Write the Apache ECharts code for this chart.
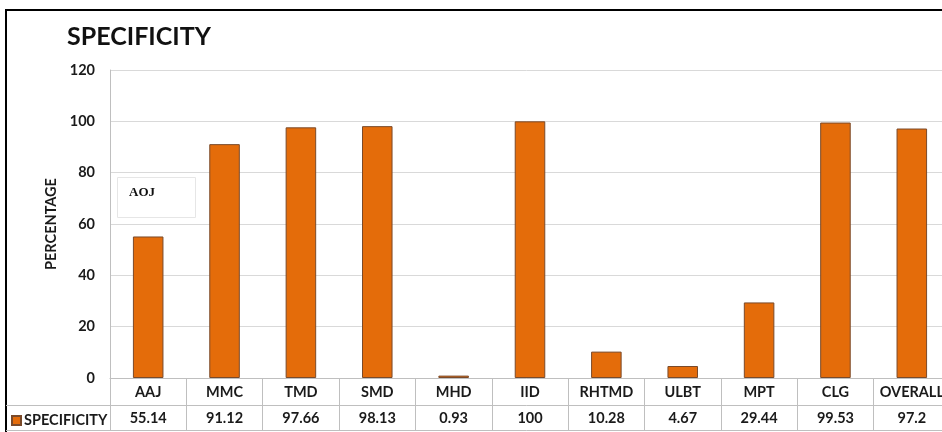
<!DOCTYPE html>
<html>
<head>
<meta charset="utf-8">
<script src="https://cdn.jsdelivr.net/npm/echarts@6/dist/echarts.min.js"></script>
<style>
  html, body { margin: 0; padding: 0; background: #fff; }
  #chart { width: 942px; height: 432px; }
</style>
</head>
<body>
<div id="chart"></div>
<script>
// Specificity per class, with a data table under the category axis
const categories = ['AAJ', 'MMC', 'TMD', 'SMD', 'MHD', 'IID', 'RHTMD', 'ULBT', 'MPT', 'CLG', 'OVERALL'];
const specificity = [55.14, 91.12, 97.66, 98.13, 0.93, 100, 10.28, 4.67, 29.44, 99.53, 97.2];
const yTicks = { min: 0, max: 120, step: 20 };

const FONT = 'Lato, "Open Sans", "Liberation Sans", sans-serif';
const TEXT = '#1a1a1a';
const ORANGE = '#E46C0A';
const GRID_LINE = '#d9d9d9';
const TABLE_LINE = '#bfbfbf';

const chart = echarts.init(document.getElementById('chart'), null, { renderer: 'canvas' });

chart.setOption({
  backgroundColor: '#ffffff',
  animation: false,
  title: {
    text: 'SPECIFICITY',
    left: 62, top: 19,
    textStyle: { fontFamily: FONT, fontWeight: 'bold', fontSize: 25, color: '#111' }
  },
  legend: {
    data: ['SPECIFICITY'],
    left: 6, top: 408,
    icon: 'rect', itemWidth: 9, itemHeight: 9, itemGap: 3,
    textStyle: { fontFamily: FONT, fontWeight: 'bold', fontSize: 14.5, color: TEXT, padding: [0, 0, 0, -2] }
  },
  // the plot runs past the right edge, so the last column is cut off
  grid: { left: 110, top: 70, width: 840, height: 308, containLabel: false, outerBoundsMode: 'none' },
  xAxis: [
    {
      // category row of the table
      type: 'category', data: categories, position: 'bottom',
      axisLine: { show: true, lineStyle: { color: TABLE_LINE, width: 1 } },
      axisTick: { show: true, interval: 0, length: 52, lineStyle: { color: TABLE_LINE } },
      axisLabel: { interval: 0, margin: 7, fontFamily: FONT, fontWeight: 'bold', fontSize: 14.5, color: TEXT }
    },
    {
      // value row of the table
      type: 'category', data: specificity.map(v => String(v)), position: 'bottom', offset: 27,
      axisLine: { show: true, lineStyle: { color: TABLE_LINE, width: 1 } },
      axisTick: { show: false },
      axisLabel: { interval: 0, margin: 6, fontFamily: FONT, fontWeight: 'bold', fontSize: 14.5, color: TEXT }
    },
    {
      // bottom edge of the table
      type: 'category', data: categories, position: 'bottom', offset: 52,
      axisLine: { show: true, lineStyle: { color: TABLE_LINE, width: 1 } },
      axisTick: { show: false },
      axisLabel: { show: false }
    }
  ],
  yAxis: {
    type: 'value', min: yTicks.min, max: yTicks.max, interval: yTicks.step,
    name: 'PERCENTAGE', nameLocation: 'middle', nameRotate: 90, nameGap: 46,
    nameTextStyle: { fontFamily: FONT, fontWeight: 'bold', fontSize: 14.5, color: TEXT },
    axisLine: { show: true, lineStyle: { color: TABLE_LINE } },
    axisTick: { show: false },
    axisLabel: { margin: 15, fontFamily: FONT, fontWeight: 'bold', fontSize: 14.5, color: TEXT },
    splitLine: { show: true, lineStyle: { color: GRID_LINE, width: 1 } }
  },
  series: [{
    name: 'SPECIFICITY', type: 'bar', xAxisIndex: 0,
    data: specificity, barWidth: '40%',
    itemStyle: { color: ORANGE, borderColor: '#7a4a2a', borderWidth: 1 }
  }],
  graphic: [
    // outer frame
    { type: 'rect', shape: { x: 6, y: 10, width: 960, height: 440 }, style: { fill: 'none', stroke: '#000', lineWidth: 2 }, silent: true },
    // left column of the table
    { type: 'line', shape: { x1: 6, y1: 405.5, x2: 110, y2: 405.5 }, style: { stroke: TABLE_LINE, lineWidth: 1 }, silent: true },
    { type: 'line', shape: { x1: 6, y1: 430.5, x2: 110, y2: 430.5 }, style: { stroke: TABLE_LINE, lineWidth: 1 }, silent: true },
    // AOJ text box
    { type: 'rect', z: 10, shape: { x: 117.5, y: 177.5, width: 78, height: 40 }, style: { fill: '#fff', stroke: '#e6e6e6', lineWidth: 1 }, silent: true },
    { type: 'text', z: 11, x: 129, y: 193, style: { text: 'AOJ', fill: '#111', font: 'bold 13px "Liberation Serif", "DejaVu Serif", serif', textVerticalAlign: 'middle' }, silent: true }
  ]
});
</script>
</body>
</html>
